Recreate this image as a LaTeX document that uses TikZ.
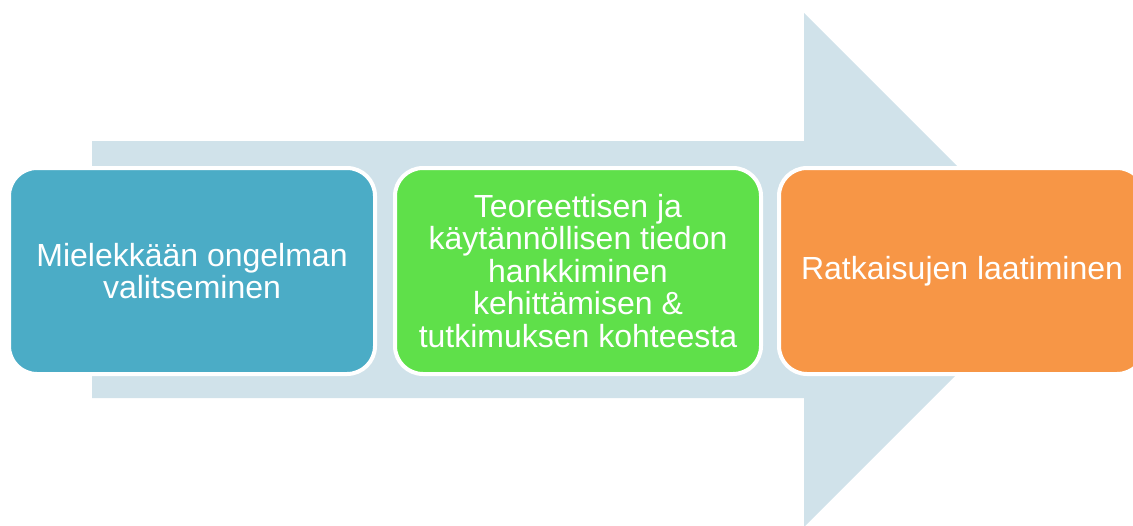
\documentclass[tikz,border=0pt]{standalone}
\usepackage{fontspec}
\setmainfont{Liberation Sans}
\usetikzlibrary{positioning}

\definecolor{arrowgrey}{HTML}{D0E2EA}
\definecolor{stepblue}{HTML}{4BACC6}
\definecolor{stepgreen}{HTML}{5FE04A}
\definecolor{steporange}{HTML}{F79646}

\begin{document}
\begin{tikzpicture}[x=1pt, y=-1pt,
  stepbox/.style={draw=white, line width=4pt, rounded corners=28pt,
    minimum width=366pt, minimum height=206pt, inner sep=0pt,
    text=white, align=center, font=\fontsize{32}{32.5}\selectfont}]

  \useasboundingbox (0,0) rectangle (1133,525);
  \clip (0,0) rectangle (1133,525);

  % big arrow in the background
  \fill[arrowgrey] (92,141) -- (804,141) -- (804,13) -- (1061,270)
    -- (804,527) -- (804,398) -- (92,398) -- cycle;

  % the three steps
  \node[stepbox, fill=stepblue] (select) at (192,271)
    {Mielekkään ongelman\\valitseminen};
  \node[stepbox, fill=stepgreen, right=16pt of select] (gather)
    {Teoreettisen ja\\käytännöllisen tiedon\\hankkiminen\\kehittämisen \&\\tutkimuksen kohteesta};
  \node[stepbox, fill=steporange, right=14pt of gather] (solve)
    {Ratkaisujen laatiminen};

\end{tikzpicture}
\end{document}
